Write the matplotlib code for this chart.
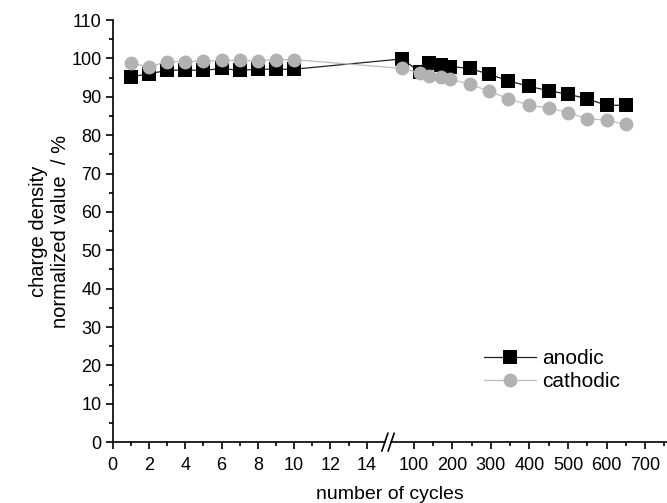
#!/usr/bin/env python3

import numpy as np
import matplotlib as mpl
mpl.use("Agg")
import matplotlib.pyplot as plt
from matplotlib.ticker import FixedLocator, NullFormatter

mpl.rcParams['font.family'] = ['Liberation Sans', 'DejaVu Sans']

# data
cycles_anodic = [1, 2, 3, 4, 5, 6, 7, 8, 9, 10,
                 70, 116, 140, 170, 195, 245, 295, 345, 400, 450, 500, 550, 600, 650]
anodic = [95.2, 96.0, 96.9, 97.0, 96.9, 97.4, 96.9, 97.2, 97.2, 97.2,
          99.9, 96.4, 98.8, 98.4, 97.9, 97.4, 95.9, 94.2, 92.7, 91.6, 90.7, 89.5, 87.8, 87.8]
cycles_cathodic = [1, 2, 3, 4, 5, 6, 7, 8, 9, 10,
                   70, 116, 140, 170, 195, 245, 295, 345, 400, 450, 500, 550, 600, 650]
cathodic = [98.8, 97.8, 99.2, 99.2, 99.3, 99.5, 99.5, 99.4, 99.7, 99.7,
            97.4, 96.2, 95.5, 95.1, 94.6, 93.3, 91.5, 89.5, 87.8, 87.1, 85.9, 84.3, 83.9, 82.8]

x_major = [0, 2, 4, 6, 8, 10, 12, 14, 100, 200, 300, 400, 500, 600, 700]
x_minor = [1, 3, 5, 7, 9, 11, 13, 150, 250, 350, 450, 550, 650, 750]

# broken x axis: 0..15 linear, then a short gap, then 41..757 compressed
brk_data = [0, 15, 41, 757]
brk_disp = [0, 272, 278.3, 554]


def fwd(x):
    return np.interp(np.asarray(x, dtype=float), brk_data, brk_disp)


def inv(x):
    return np.interp(np.asarray(x, dtype=float), brk_disp, brk_data)


fig = plt.figure(figsize=(6.67, 5.03), dpi=100)
ax = fig.add_axes([0.169, 0.121, 0.831, 0.839])
ax.set_xscale('function', functions=(fwd, inv))

ax.plot(cycles_anodic, anodic, '-', color='#222222', lw=0.9, marker='s',
        markersize=9.5, markerfacecolor='black', markeredgecolor='black',
        markeredgewidth=0, label='anodic')
ax.plot(cycles_cathodic, cathodic, '-', color='#bdbdbd', lw=0.9, marker='o',
        markersize=10, markerfacecolor='#b2b2b2', markeredgecolor='#b2b2b2',
        markeredgewidth=0, label='cathodic')

ax.set_xlim(0, 757)
ax.set_ylim(0, 110)

ax.xaxis.set_major_locator(FixedLocator(x_major))
ax.xaxis.set_minor_locator(FixedLocator(x_minor))
ax.xaxis.set_minor_formatter(NullFormatter())
ax.set_xticklabels([str(v) for v in x_major])
ax.yaxis.set_major_locator(FixedLocator(np.arange(0, 111, 10)))
ax.yaxis.set_minor_locator(FixedLocator(np.arange(5, 110, 10)))

ax.tick_params(axis='both', which='major', direction='out', length=5, width=1.2,
               labelsize=13, pad=3, colors='black')
ax.tick_params(axis='x', which='major', pad=6)
ax.tick_params(axis='both', which='minor', direction='out', length=3, width=1.2)

ax.spines['top'].set_visible(False)
ax.spines['right'].set_visible(False)
ax.spines['bottom'].set_visible(False)
ax.spines['left'].set_linewidth(1.2)

# bottom spine drawn in two pieces with a "//" mark between
ax.plot([0, 15], [0, 0], color='black', lw=1.2, clip_on=False, zorder=5)
ax.plot([41, 757], [0, 0], color='black', lw=1.2, clip_on=False, zorder=5)
for xb in [15, 41]:
    xd = fwd(xb)
    ax.plot([inv(xd - 3), inv(xd + 3)], [-2.3, 2.3], color='black', lw=1.2,
            clip_on=False, zorder=6)

ax.set_xlabel('number of cycles', fontsize=14, labelpad=8)
ax.set_ylabel('charge density\nnormalized value  / %', fontsize=14.5, labelpad=1)

ax.legend(loc='center left', bbox_to_anchor=(0.67, 0.17), frameon=False,
          fontsize=15, handlelength=2.5, handletextpad=0.3, labelspacing=0.2,
          borderpad=0, borderaxespad=0)

fig.savefig('out.png', dpi=100)
